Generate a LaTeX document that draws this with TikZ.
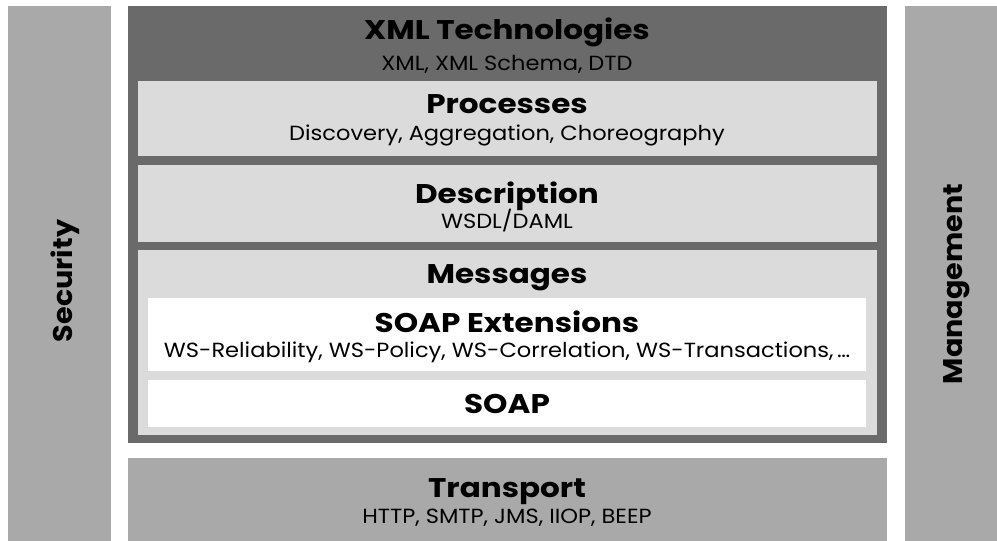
\documentclass[tikz,border=0pt]{standalone}
\usepackage{fontspec}
\setmainfont{Poppins}
\newfontfamily\headfont{Poppins}[FakeStretch=1.15]
\newfontfamily\subfont{Poppins}[FakeStretch=1.1]
\newfontfamily\sidefont{Poppins}[FakeStretch=1.06]
\usepackage{xcolor}
\usetikzlibrary{positioning}
\definecolor{bandDark}{HTML}{6A6A6A}
\definecolor{bandLight}{HTML}{DBDBDB}
\definecolor{bandMid}{HTML}{A9A9A9}
\tikzset{
band/.style = {rectangle, fill=#1, inner sep=0pt, outer sep=0pt,
               anchor=north west},
band/.default = bandLight
}
\tikzset{
head/.style = {anchor=base, inner sep=0pt, font=\headfont\fontsize{27}{27}\selectfont\bfseries},
sub/.style = {anchor=base, inner sep=0pt, font=\subfont\fontsize{20.5}{20.5}\selectfont},
sidetext/.style = {rotate=90, inner sep=0pt, font=\sidefont\fontsize{27}{27}\selectfont\bfseries}
}

\begin{document}
\begin{tikzpicture}[x=1pt, y=-1pt]
\useasboundingbox (0,0) rectangle (997,541);

% side columns
\node[band=bandMid, minimum width=103pt, minimum height=535pt] (secBar) at (8,6) {};
\node[band=bandMid, minimum width=92pt, minimum height=535pt] (mgmtBar) at (905,6) {};
\node[sidetext] (secText) at (65,281) {Security};
\node[sidetext] (mgmtText) at (957,284) {Management};

% the stack
\node[band=bandDark, minimum width=759pt, minimum height=437pt] (stack) at (128,6) {};
\node[band, minimum width=739pt, minimum height=75pt] (procBox) at (138,81) {};
\node[band, minimum width=739pt, minimum height=77pt] (descBox) at (138,165) {};
\node[band, minimum width=739pt, minimum height=185pt] (msgBox) at (138,250) {};
\node[band=white, minimum width=718pt, minimum height=73pt] (extBox) at (148,298) {};
\node[band=white, minimum width=718pt, minimum height=47pt] (soapBox) at (148,380) {};
\node[band=bandMid, minimum width=759pt, minimum height=83pt] (transBox) at (128,458) {};

\node[head] (xmlHead) at (507,39) {XML Technologies};
\node[sub] (xmlSub) at (507,70) {XML, XML Schema, DTD};
\node[head] (procHead) at (507,113) {Processes};
\node[sub] (procSub) at (507,140) {Discovery, Aggregation, Choreography};
\node[head] (descHead) at (507,203) {Description};
\node[sub] (descSub) at (507,228) {WSDL/DAML};
\node[head] (msgHead) at (507,283) {Messages};
\node[head] (extHead) at (507,332) {SOAP Extensions};
\node[sub] (extSub) at (507,357) {WS-Reliability, WS-Policy, WS-Correlation, WS-Transactions,\,\ldots};
\node[head] (soapHead) at (507,413) {SOAP};
\node[head] (transHead) at (507,497) {Transport};
\node[sub] (transSub) at (507,523) {HTTP, SMTP, JMS, IIOP, BEEP};
\end{tikzpicture}
\end{document}
